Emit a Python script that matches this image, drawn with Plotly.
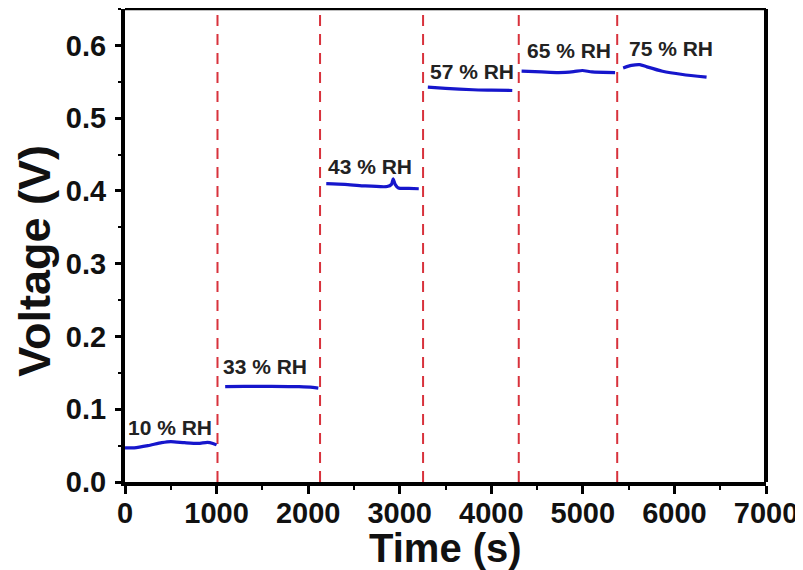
import plotly.graph_objects as go

# ---- data ----
seg_10_x = [0, 100, 250, 400, 500, 650, 800, 900, 960, 1000]
seg_10_y = [0.047, 0.047, 0.050, 0.054, 0.0555, 0.054, 0.053, 0.0545, 0.053, 0.051]

seg_33_x = [1094, 1300, 1600, 1900, 2050, 2111]
seg_33_y = [0.131, 0.1315, 0.1315, 0.131, 0.130, 0.129]

seg_43_x = [2198, 2400, 2600, 2862, 2910, 2928, 2950, 2986, 3100, 3208]
seg_43_y = [0.410, 0.409, 0.407, 0.406, 0.409, 0.4167, 0.409, 0.404, 0.4035, 0.403]

seg_57_x = [3307, 3500, 3800, 4000, 4229]
seg_57_y = [0.5427, 0.541, 0.539, 0.5385, 0.538]

seg_65_x = [4331, 4550, 4736, 4900, 4995, 5100, 5352]
seg_65_y = [0.5645, 0.5635, 0.5627, 0.564, 0.5655, 0.5635, 0.5627]

seg_75_x = [5440, 5530, 5622, 5700, 5870, 6089, 6351]
seg_75_y = [0.569, 0.5725, 0.5736, 0.5705, 0.5645, 0.560, 0.5563]

segments_x = [seg_10_x, seg_33_x, seg_43_x, seg_57_x, seg_65_x, seg_75_x]
segments_y = [seg_10_y, seg_33_y, seg_43_y, seg_57_y, seg_65_y, seg_75_y]

switch_times = [1010, 2130, 3255, 4300, 5375]

labels = ["10 % RH", "33 % RH", "43 % RH", "57 % RH", "65 % RH", "75 % RH"]
label_x = [492, 1531, 2680, 3792, 4845, 5960]
label_y = [0.0744, 0.159, 0.4335, 0.5645, 0.593, 0.596]

x_ticks = [0, 1000, 2000, 3000, 4000, 5000, 6000, 7000]
y_ticks = [0.0, 0.1, 0.2, 0.3, 0.4, 0.5, 0.6]

x_title = "Time (s)"
y_title = "Voltage (V)"

# ---- figure ----
fig = go.Figure()

for sx, sy in zip(segments_x, segments_y):
    fig.add_trace(go.Scatter(x=sx, y=sy, mode="lines",
                             line=dict(color="#1616cc", width=3.2, shape="spline", smoothing=0.6),
                             showlegend=False, hoverinfo="skip"))

for t in switch_times:
    fig.add_shape(type="line", xref="x", yref="paper", x0=t, x1=t, y0=0, y1=1,
                  line=dict(color="#d8323c", width=2, dash="11px,8px"), layer="below")

for txt, lx, ly in zip(labels, label_x, label_y):
    fig.add_annotation(x=lx, y=ly, xref="x", yref="y", text=txt, showarrow=False,
                       font=dict(family="Liberation Sans", size=21, color="#222222", weight="bold"))

# axis titles
fig.add_annotation(x=0.5, y=-0.1395, xref="paper", yref="paper", text=x_title, showarrow=False,
                   xanchor="center", yanchor="middle",
                   font=dict(family="Liberation Sans", size=40, color="#111111", weight="bold"))
fig.add_annotation(x=-0.1404, y=0.468, xref="paper", yref="paper", text=y_title, showarrow=False,
                   xanchor="center", yanchor="middle", textangle=-90,
                   font=dict(family="Liberation Sans", size=45, color="#111111", weight="bold"))

# top and right frame lines
fig.add_shape(type="line", xref="paper", yref="paper", x0=0, x1=1, y0=1, y1=1,
              line=dict(color="black", width=2.5))
fig.add_shape(type="line", xref="paper", yref="paper", x0=1, x1=1, y0=0, y1=1,
              line=dict(color="black", width=4))

tickfont = dict(family="Liberation Sans", size=29, color="#111111", weight="bold")

fig.update_xaxes(range=[0, 7000], tickvals=x_ticks, ticktext=[str(v) for v in x_ticks],
                 showgrid=False, zeroline=False, showline=True, linecolor="black", linewidth=4,
                 ticks="outside", ticklen=8, tickwidth=3, tickcolor="black",
                 minor=dict(dtick=500, tick0=0, ticks="outside", ticklen=4, tickwidth=2,
                            tickcolor="black", showgrid=False),
                 tickfont=tickfont, ticklabelstandoff=-6, automargin=False)
fig.update_yaxes(range=[0, 0.65], tickvals=y_ticks, ticktext=[f"{v:.1f}" for v in y_ticks],
                 showgrid=False, zeroline=False, showline=True, linecolor="black", linewidth=4,
                 ticks="outside", ticklen=6, tickwidth=3, tickcolor="black",
                 minor=dict(dtick=0.05, tick0=0, ticks="outside", ticklen=3, tickwidth=2,
                            tickcolor="black", showgrid=False),
                 tickfont=tickfont, ticklabelstandoff=3, automargin=False)

# the page body adds an 8px margin, so the figure is sized to fit the 803x570 window
fig.update_layout(width=795, height=562, margin=dict(l=117, r=37, t=1, b=88),
                  plot_bgcolor="white", paper_bgcolor="white", showlegend=False)

fig.write_html("out.html")
